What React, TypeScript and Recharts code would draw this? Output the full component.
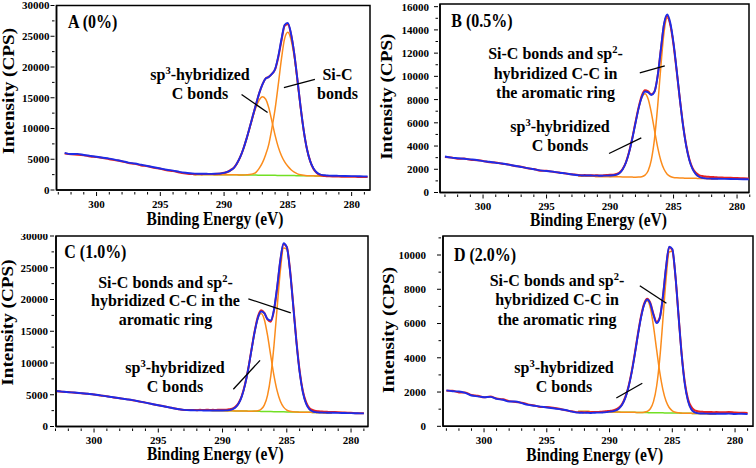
import React from 'react';
import { LineChart, Line, XAxis, YAxis, ReferenceLine, ReferenceArea } from 'recharts';

const FONT = "'Liberation Serif', 'Times New Roman', serif";
const RED = '#e8231f';
const BLUE = '#1e2be6';
const ORANGE = '#fb8c1c';
const GREEN = '#72e024';

// binding energy grid (eV)
const scanLow = [303, 302.5, 302, 301.5, 301, 300.5, 300, 299.5, 299, 298.5, 298, 297.5, 297, 296.5, 296, 295.5, 295, 294.5, 294, 293.5, 293];
const energyFit = [
  292.5, 292.25, 292, 291.75, 291.5, 291.25, 291, 290.75, 290.5, 290.25,
  290, 289.75, 289.5, 289.25, 289, 288.75, 288.5, 288.25, 288, 287.75,
  287.5, 287.25, 287, 286.75, 286.5, 286.25, 286, 285.75, 285.5, 285.25,
  285, 284.75, 284.5, 284.25, 284, 283.75, 283.5, 283.25, 283, 282.75,
  282.5, 282.25, 282, 281.75, 281.5,
];
const scanHigh = [281, 280.5, 280, 279.5, 279, 278.75];
const energyScan = [...scanLow, ...energyFit, ...scanHigh];

const xTicks = [279, 280, 281, 282, 283, 284, 285, 286, 287, 288, 289, 290, 291, 292, 293, 294, 295, 296, 297, 298, 299, 300, 301, 302, 303];
const yTicks30k = [0, 2500, 5000, 7500, 10000, 12500, 15000, 17500, 20000, 22500, 25000, 27500, 30000];
const yTicks16k = [0, 1000, 2000, 3000, 4000, 5000, 6000, 7000, 8000, 9000, 10000, 11000, 12000, 13000, 14000, 15000, 16000];
const yTicks11k = [0, 1000, 2000, 3000, 4000, 5000, 6000, 7000, 8000, 9000, 10000, 11000];

// ---- A (0%) ----
const rawA = [
  null, 5950, 5800, 5750, 5650, 5450, 5350, 5200, 5000, 4850, 4650, 4400, 4250, 4000, 3850, 3600, 3450, 3200, 3100, 2850, 2700,
  2600, 2580, 2600, 2580, 2600, 2590, 2600, 2620, 2650, 2700, 2800, 2950, 3250, 3570, 4290, 5290, 6620, 8270, 10110, 12040,
  13900, 15710, 17150, 18100, 18390, 18880, 19600, 21600, 24300, 26700, 26950, 25300, 22190, 17930, 13470, 9580, 6630, 4700, 3450, 2780,
  2450, 2300, 2250, 2220, 2200,
  2180, 2150, 2160, 2120, 2100, 2100,
];
const fitA = [
  null, 6050, 5850, 5880, 5700, 5550, 5400, 5250, 5100, 4900, 4700, 4450, 4300, 4100, 3900, 3700, 3500, 3300, 3150, 2950, 2800,
  2680, 2660, 2650, 2640, 2640, 2630, 2630, 2640, 2660, 2700, 2780, 2930, 3200, 3570, 4290, 5290, 6620, 8270, 10110, 12040,
  13900, 15710, 17150, 18100, 18390, 18880, 19680, 21770, 24560, 26860, 27150, 25390, 22190, 17930, 13470, 9580, 6630, 4700, 3550, 2890,
  2560, 2420, 2380, 2340, 2320,
  2300, 2280, 2260, 2240, 2210, 2200,
];
const sp3A = [
  2550, 2540, 2540, 2530, 2520, 2520, 2510, 2515, 2540, 2580, 2660, 2830, 3110, 3570, 4290, 5290, 6620, 8240, 10030, 11840,
  13450, 14610, 15150, 14800, 13390, 11180, 8880, 6970, 5560, 4560, 3850, 3290, 2890, 2630, 2470, 2380, 2330, 2300, 2300, 2290,
  2280, 2280, 2270, 2260, 2260,
];
const sicA = [
  2550, 2540, 2540, 2530, 2520, 2520, 2510, 2500, 2500, 2490, 2480, 2480, 2470, 2460, 2460, 2450, 2440, 2470, 2510, 2620,
  2870, 3510, 4400, 5700, 7390, 10080, 13180, 17170, 21360, 24660, 25650, 24440, 21640, 17630, 13320, 9520, 6610, 4700, 3550, 2890,
  2560, 2400, 2320, 2280, 2260,
];
const baseA = [
  2550, 2540, 2540, 2530, 2520, 2520, 2510, 2500, 2500, 2490, 2480, 2480, 2470, 2460, 2460, 2450, 2440, 2440, 2430, 2420,
  2420, 2410, 2400, 2400, 2390, 2380, 2380, 2370, 2360, 2360, 2350, 2340, 2340, 2330, 2320, 2320, 2310, 2300, 2300, 2290,
  2280, 2280, 2270, 2260, 2260,
];

// ---- B (0.5%) ----
const rawB = [
  3050, 3020, 2900, 2920, 2820, 2780, 2720, 2600, 2580, 2480, 2420, 2280, 2220, 2080, 2020, 1880, 1870, 1780, 1720, 1630, 1580,
  1500, 1490, 1500, 1480, 1490, 1470, 1480, 1460, 1480, 1500, 1520, 1530, 1600, 1720, 2050, 2600, 3500, 4700, 6050, 7350,
  8350, 8800, 8700, 8450, 8700, 10050, 12300, 14450, 15200, 14400, 12700, 10400, 8000, 5800, 4050, 2850, 2100, 1700, 1500, 1420,
  1380, 1350, 1330, 1320, 1300,
  1280, 1260, 1250, 1220, 1200, null,
];
const fitB = [
  3100, 3000, 2950, 2900, 2850, 2800, 2700, 2650, 2550, 2500, 2400, 2300, 2200, 2100, 2000, 1900, 1850, 1800, 1700, 1650, 1550,
  1480, 1470, 1460, 1470, 1460, 1450, 1450, 1440, 1450, 1450, 1460, 1480, 1540, 1680, 2005, 2580, 3455, 4625, 5960, 7245,
  8220, 8695, 8630, 8395, 8680, 10055, 12320, 14520, 15331, 14570, 12845, 10502, 7995, 5740, 3985, 2760, 2005, 1580, 1360, 1265,
  1220, 1195, 1190, 1185, 1180,
  1170, 1160, 1150, 1140, 1130, null,
];
const sp3B = [
  1420, 1415, 1410, 1400, 1400, 1390, 1385, 1380, 1375, 1375, 1385, 1415, 1495, 1665, 2005, 2580, 3455, 4625, 5960, 7235,
  8170, 8505, 8050, 6875, 5350, 3885, 2740, 2000, 1581, 1380, 1295, 1262, 1245, 1240, 1235, 1230, 1225, 1220, 1210, 1205,
  1200, 1195, 1190, 1185, 1180,
];
const sicB = [
  1420, 1415, 1410, 1400, 1400, 1390, 1385, 1380, 1375, 1370, 1365, 1360, 1355, 1350, 1345, 1340, 1330, 1325, 1320, 1325,
  1360, 1495, 1880, 2815, 4620, 7455, 10860, 13795, 15015, 14450, 12805, 10490, 7995, 5740, 3985, 2760, 2005, 1580, 1360, 1265,
  1220, 1195, 1190, 1185, 1180,
];

// ---- C (1.0%) ----
const rawC = [
  5580, 5480, 5420, 5330, 5240, 5160, 5030, 4890, 4760, 4580, 4440, 4310, 4140, 3940, 3760, 3540, 3340, 3160, 2940, 2760, 2600,
  2580, 2600, 2560, 2620, 2580, 2640, 2600, 2620, 2600, 2650, 2620, 2650, 2700, 2800, 3100, 3700, 4850, 6650, 9100, 12100,
  15000, 17300, 18300, 17900, 16850, 16500, 18200, 21800, 26100, 28700, 28300, 24700, 19200, 13500, 8800, 5600, 3850, 2950, 2600, 2450,
  2400, 2350, 2330, 2300, 2280,
  2250, 2200, 2150, 2100, 2080, null,
];
const fitC = [
  5600, 5500, 5400, 5350, 5250, 5150, 5050, 4900, 4750, 4600, 4450, 4300, 4150, 3950, 3750, 3550, 3350, 3150, 2950, 2750, 2620,
  2560, 2550, 2540, 2540, 2530, 2530, 2520, 2520, 2520, 2530, 2530, 2540, 2580, 2700, 2990, 3615, 4750, 6560, 9050, 12000,
  14894, 17096, 18116, 17840, 16930, 16710, 18380, 22000, 26220, 28850, 28230, 24560, 19021, 13270, 8550, 5390, 3610, 2750, 2390, 2260,
  2215, 2190, 2180, 2170, 2160,
  2150, 2120, 2100, 2080, 2060, null,
];
const sp3C = [
  2600, 2590, 2580, 2570, 2560, 2550, 2540, 2530, 2520, 2512, 2508, 2516, 2560, 2685, 2990, 3615, 4750, 6560, 9050, 12000,
  14870, 17000, 17780, 16840, 14380, 11160, 8050, 5600, 3970, 3050, 2590, 2390, 2311, 2280, 2260, 2250, 2240, 2230, 2220, 2210,
  2200, 2190, 2180, 2170, 2160,
];
const sicC = [
  2600, 2590, 2580, 2570, 2560, 2550, 2540, 2530, 2520, 2510, 2500, 2490, 2480, 2470, 2460, 2450, 2440, 2430, 2420, 2410,
  2424, 2486, 2716, 3370, 4910, 7900, 12670, 18730, 24570, 28110, 27940, 24460, 18990, 13260, 8550, 5390, 3610, 2750, 2390, 2260,
  2215, 2190, 2180, 2170, 2160,
];
const baseC = [
  2600, 2590, 2580, 2570, 2560, 2550, 2540, 2530, 2520, 2510, 2500, 2490, 2480, 2470, 2460, 2450, 2440, 2430, 2420, 2410,
  2400, 2390, 2380, 2370, 2360, 2350, 2340, 2330, 2320, 2310, 2300, 2290, 2280, 2270, 2260, 2250, 2240, 2230, 2220, 2210,
  2200, 2190, 2180, 2170, 2160,
];

// ---- D (2.0%) ----
const rawD = [
  2080, 2070, 1980, 1970, 1830, 1780, 1690, 1740, 1620, 1580, 1470, 1420, 1380, 1280, 1220, 1130, 1120, 1080, 1020, 930, 880,
  820, 830, 810, 830, 820, 840, 830, 850, 860, 880, 900, 920, 980, 1100, 1300, 1700, 2300, 3150, 4200, 5350,
  6400, 7150, 7450, 7200, 6550, 6100, 6350, 7550, 9250, 10450, 10300, 8750, 6450, 4200, 2550, 1600, 1150, 950, 880, 850,
  840, 830, 840, 820, 830,
  820, 830, 800, 790, 780, null,
];
const fitD = [
  2100, 2050, 2030, 1950, 1800, 1750, 1700, 1720, 1600, 1550, 1450, 1450, 1350, 1250, 1200, 1150, 1100, 1050, 1000, 950, 860,
  800, 790, 800, 790, 780, 790, 800, 800, 810, 830, 855, 874, 925, 1043, 1262, 1643, 2246, 3087, 4136, 5276,
  6320, 7083, 7400, 7149, 6496, 6021, 6312, 7561, 9281, 10492, 10346, 8782, 6431, 4137, 2446, 1471, 1007, 825, 769, 750,
  745, 740, 735, 735, 730,
  730, 740, 720, 730, 710, null,
];
const sp3D = [
  870, 865, 865, 860, 855, 855, 850, 850, 845, 845, 855, 874, 925, 1043, 1262, 1643, 2246, 3087, 4136, 5276,
  6320, 7065, 7330, 6920, 5852, 4473, 3158, 2142, 1473, 1097, 906, 819, 786, 770, 760, 760, 755, 750, 750, 745,
  745, 740, 735, 735, 730,
];
const sicD = [
  870, 865, 865, 860, 855, 855, 850, 850, 845, 840, 840, 835, 830, 830, 825, 820, 820, 815, 815, 810,
  805, 823, 870, 1024, 1439, 2338, 3939, 6204, 8588, 10175, 10215, 8733, 6415, 4132, 2446, 1471, 1007, 825, 769, 750,
  745, 740, 735, 735, 730,
];
const baseD = [
  870, 865, 865, 860, 855, 855, 850, 850, 845, 840, 840, 835, 830, 830, 825, 820, 820, 815, 815, 810,
  805, 805, 800, 795, 795, 790, 785, 785, 780, 780, 775, 770, 770, 765, 760, 760, 755, 750, 750, 745,
  745, 740, 735, 735, 730,
];

type Pt = [number, number];
type Note = { x: number; y: number; lh: number; lines: string[] };
type PanelSpec = {
  left: number; top: number;
  yw: number; mt: number; mr: number; xh: number;
  xDomain: [number, number]; yDomain: [number, number];
  yTicks: number[]; yMajor: number; gap: number;
  raw: (number | null)[]; fit: (number | null)[];
  sp3: number[]; sic: number[]; base: number[] | null;
  leaders: [Pt, Pt][];
};

const panels: PanelSpec[] = [
  {
    left: 0, top: 0, yw: 56.5, mt: 5.5, mr: 8, xh: 44,
    xDomain: [278.56, 303.14], yDomain: [0, 30000], yTicks: yTicks30k, yMajor: 5000, gap: 5,
    raw: rawA, fit: fitA, sp3: sp3A, sic: sicA, base: baseA,
    leaders: [[[288.63, 15520], [286.59, 12600]], [[285.31, 16660], [282.88, 18000]]],
  },
  {
    left: 378, top: 0, yw: 62, mt: 4, mr: 7, xh: 41.5,
    xDomain: [279.06, 303.39], yDomain: [0, 16230], yTicks: yTicks16k, yMajor: 2000, gap: 9,
    raw: rawB, fit: fitB, sp3: sp3B, sic: sicB, base: null,
    leaders: [[[287.66, 10310], [285.69, 10910]], [[290.08, 3360], [287.54, 4710]]],
  },
  {
    left: 0, top: 234, yw: 56, mt: 2, mr: 10, xh: 41.5,
    xDomain: [278.68, 302.96], yDomain: [0, 30000], yTicks: yTicks30k, yMajor: 5000, gap: 6,
    raw: rawC, fit: fitC, sp3: sp3C, sic: sicC, base: baseC,
    leaders: [[[287.99, 20110], [284.69, 17910]], [[289.16, 5860], [287.08, 10420]]],
  },
  {
    left: 378, top: 234, yw: 65, mt: 2, mr: 3, xh: 41.7,
    xDomain: [278.57, 303.27], yDomain: [0, 11110], yTicks: yTicks11k, yMajor: 2000, gap: 15,
    raw: rawD, fit: fitD, sp3: sp3D, sic: sicD, base: baseD,
    leaders: [[[287.59, 8210], [285.47, 7180]], [[289.46, 1650], [287.39, 2510]]],
  },
];

const panelTitles = [
  { text: 'A (0%)', x: 68, y: 28 },
  { text: 'B (0.5%)', x: 451.3, y: 26.7 },
  { text: 'C (1.0%)', x: 64.3, y: 258 },
  { text: 'D (2.0%)', x: 454, y: 260.7 },
];
const xTitles = [{ x: 215, y: 225 }, { x: 598.5, y: 226 }, { x: 215.3, y: 460 }, { x: 594.7, y: 461 }];
const yTitles = [{ x: 8.5, y: 91 }, { x: 386.3, y: 96.7 }, { x: 8, y: 322.5 }, { x: 389, y: 330 }];

const sp3Lines = ['sp^3-hybridized', 'C bonds'];
const notes: Note[] = [
  { x: 200, y: 80, lh: 18.5, lines: sp3Lines },
  { x: 337.5, y: 80, lh: 18.5, lines: ['Si-C', 'bonds'] },
  { x: 555.5, y: 59.3, lh: 19.5, lines: ['Si-C bonds and sp^2-', 'hybridized C-C in', 'the aromatic ring'] },
  { x: 560, y: 131.7, lh: 19, lines: sp3Lines },
  { x: 165.5, y: 288, lh: 18.4, lines: ['Si-C bonds and sp^2-', 'hybridized C-C in the', 'aromatic ring'] },
  { x: 175, y: 373.3, lh: 19, lines: sp3Lines },
  { x: 557, y: 286, lh: 19.4, lines: ['Si-C bonds and sp^2-', 'hybridized C-C in', 'the aromatic ring'] },
  { x: 564, y: 373, lh: 19.3, lines: sp3Lines },
];

const toPts = (xs: number[], ys: (number | null)[]) =>
  xs.map((e, i) => ({ e, v: ys[i] })).filter((d) => d.v != null);

function XTick(props: any) {
  const { x, y, payload } = props;
  const major = payload.value % 5 === 0;
  return (
    <g>
      <line x1={x} x2={x} y1={y} y2={y + (major ? 4 : 2.5)} stroke="#000" strokeWidth={1} />
      {major && (
        <text x={x} y={y + 15.5} textAnchor="middle" fontFamily={FONT} fontWeight="bold" fontSize={11} fill="#000">
          {payload.value}
        </text>
      )}
    </g>
  );
}

function YTick(props: any) {
  const { x, y, payload, major, gap } = props;
  const isMajor = payload.value % major === 0;
  return (
    <g>
      <line x1={x - (isMajor ? 4 : 2.5)} x2={x} y1={y} y2={y} stroke="#000" strokeWidth={1} />
      {isMajor && (
        <text x={x - gap} y={y} dy="0.36em" textAnchor="end" fontFamily={FONT} fontWeight="bold" fontSize={11} fill="#000">
          {payload.value}
        </text>
      )}
    </g>
  );
}

function Panel({ p }: { p: PanelSpec }) {
  const line = { type: 'monotone' as const, dataKey: 'v', dot: false, isAnimationActive: false };
  return (
    <div style={{ position: 'absolute', left: p.left, top: p.top }}>
      <LineChart width={378} height={234} margin={{ top: p.mt, right: p.mr, bottom: 0, left: 0 }}>
        <XAxis
          dataKey="e" type="number" domain={p.xDomain} reversed allowDataOverflow
          ticks={xTicks} interval={0} tickSize={0} tickLine={false} height={p.xh}
          tick={<XTick />} axisLine={{ stroke: '#000', strokeWidth: 1.5 }}
        />
        <YAxis
          type="number" domain={p.yDomain} allowDataOverflow ticks={p.yTicks} interval={0}
          width={p.yw} tickSize={0} tickLine={false}
          tick={(t: any) => <YTick {...t} major={p.yMajor} gap={p.gap} />}
          axisLine={{ stroke: '#000', strokeWidth: 1.5 }}
        />
        <ReferenceArea
          x1={p.xDomain[0]} x2={p.xDomain[1]} y1={p.yDomain[0]} y2={p.yDomain[1]}
          fill="none" fillOpacity={0} stroke="#000" strokeWidth={1.5}
        />
        {p.base && <Line {...line} data={toPts(energyFit, p.base)} stroke={GREEN} strokeWidth={1.5} />}
        <Line {...line} data={toPts(energyFit, p.sp3)} stroke={ORANGE} strokeWidth={1.5} />
        <Line {...line} data={toPts(energyFit, p.sic)} stroke={ORANGE} strokeWidth={1.5} />
        <Line {...line} data={toPts(energyScan, p.raw)} stroke={RED} strokeWidth={2} />
        <Line {...line} data={toPts(energyScan, p.fit)} stroke={BLUE} strokeWidth={1.9} />
        {p.leaders.map((seg, i) => (
          <ReferenceLine
            key={i}
            segment={[{ x: seg[0][0], y: seg[0][1] }, { x: seg[1][0], y: seg[1][1] }]}
            stroke="#000" strokeWidth={1.3}
          />
        ))}
      </LineChart>
    </div>
  );
}

function RichLine({ s, sup }: { s: string; sup: number }) {
  const m = s.match(/^(.*)\^(\d)(.*)$/);
  if (!m) return <>{s}</>;
  return (
    <>
      <tspan>{m[1]}</tspan>
      <tspan dy={-6} fontSize={sup}>{m[2]}</tspan>
      <tspan dy={6}>{m[3]}</tspan>
    </>
  );
}

export default function App() {
  const txt = { fontFamily: FONT, fontWeight: 'bold' as const, fill: '#000' };
  return (
    <div style={{ position: 'absolute', left: 0, top: 0, width: 756, height: 468, background: '#fff' }}>
      {panels.map((p, i) => (
        <Panel key={i} p={p} />
      ))}
      <svg width={756} height={468} style={{ position: 'absolute', left: 0, top: 0, pointerEvents: 'none' }}>
        {panelTitles.map((t) => (
          <text key={t.text} transform={`translate(${t.x},${t.y}) scale(1,1.12)`} fontSize={16} {...txt}>
            {t.text}
          </text>
        ))}
        {xTitles.map((t, i) => (
          <text key={i} transform={`translate(${t.x},${t.y}) scale(1,1.15)`} textAnchor="middle" fontSize={15.5} {...txt}>
            Binding Energy (eV)
          </text>
        ))}
        {yTitles.map((t, i) => (
          <text
            key={i}
            transform={`translate(${t.x},${t.y}) rotate(-90) scale(1.2,1)`}
            textAnchor="middle" dominantBaseline="central" fontSize={16} {...txt}
          >
            Intensity (CPS)
          </text>
        ))}
        {notes.map((n, i) => (
          <g key={i}>
            {n.lines.map((s, j) => (
              <text key={j} x={n.x} y={n.y + j * n.lh} textAnchor="middle" fontSize={16} {...txt}>
                <RichLine s={s} sup={10.5} />
              </text>
            ))}
          </g>
        ))}
      </svg>
    </div>
  );
}
